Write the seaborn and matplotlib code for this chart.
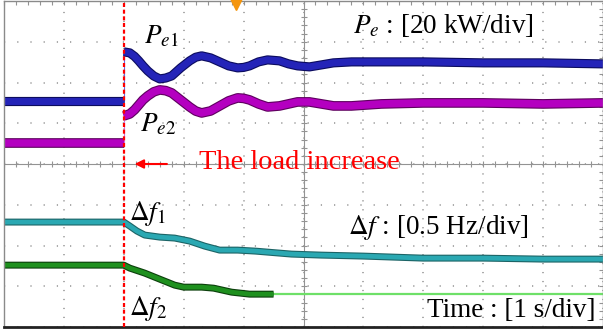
import matplotlib

matplotlib.use("Agg")
import matplotlib.patheffects as pe
import matplotlib.pyplot as plt
import numpy as np
import seaborn as sns

# time in s (1 s/div), traces in divisions
pre_t = [0, 2.0]
pe1_pre = [1.548, 1.548]
pe2_pre = [0.516, 0.516]

pe_t = [2.0, 2.1, 2.18, 2.25, 2.32, 2.4, 2.5, 2.6, 2.7, 2.8, 2.95, 3.1, 3.2, 3.3,
        3.45, 3.6, 3.75, 3.9, 4.0, 4.1, 4.25, 4.4, 4.6, 4.75, 4.9, 5.1, 5.3, 5.5,
        5.8, 6.3, 7.0, 8.0, 9.0, 10.0]
pe1 = [2.752, 2.727, 2.640, 2.531, 2.410, 2.285, 2.160, 2.088, 2.110, 2.162, 2.359,
       2.531, 2.620, 2.654, 2.604, 2.506, 2.408, 2.359, 2.370, 2.408, 2.506, 2.555,
       2.531, 2.457, 2.408, 2.383, 2.432, 2.482, 2.506, 2.506, 2.506, 2.482, 2.482,
       2.457]
pe2 = [1.179, 1.229, 1.330, 1.450, 1.570, 1.671, 1.770, 1.818, 1.800, 1.744, 1.572,
       1.400, 1.300, 1.253, 1.302, 1.425, 1.548, 1.622, 1.610, 1.572, 1.474, 1.400,
       1.425, 1.474, 1.523, 1.523, 1.474, 1.425, 1.425, 1.474, 1.499, 1.499, 1.474,
       1.499]

df1_t = [0, 2.0, 2.1, 2.22, 2.35, 2.6, 2.85, 3.1, 3.35, 3.6, 3.9, 4.2, 4.8, 5.3,
         6.0, 7.0, 8.0, 9.0, 10.0]
df1 = [-1.425, -1.425, -1.523, -1.646, -1.744, -1.794, -1.818, -1.892, -2.015,
       -2.113, -2.113, -2.138, -2.211, -2.236, -2.260, -2.310, -2.310, -2.334, -2.334]

df2_t = [0, 2.0, 2.1, 2.35, 2.6, 2.85, 3.0, 3.3, 3.5, 3.8, 4.1, 4.5]
df2 = [-2.482, -2.482, -2.555, -2.678, -2.826, -2.973, -3.022, -3.022, -3.047,
       -3.145, -3.194, -3.194]
df2_tail_t = [4.3, 10.0]
df2_tail = [-3.194, -3.194]

load_step_t = 2.0
trigger_t = 3.87

sns.set_theme(style="white")
plt.rcParams["font.family"] = ["Liberation Serif", "DejaVu Serif"]
plt.rcParams["mathtext.fontset"] = "stix"

fig = plt.figure(figsize=(6.03, 3.31), dpi=100)
ax = fig.add_axes([4 / 603, 4 / 331, 599 / 603, 326 / 331])
ax.set_xlim(0, 10)
ax.set_ylim(-4, 4)

grid_c = "#939393"
ax.set_xticks(np.arange(0, 10.01, 1))
ax.set_yticks(np.arange(-4, 4.01, 1))
ax.set_xticks(np.arange(0, 10.01, 0.2), minor=True)
ax.set_yticks(np.arange(-4, 4.01, 0.2), minor=True)
ax.tick_params(which="both", direction="in", length=3, width=0.8, color=grid_c,
               top=True, right=True, labelbottom=False, labelleft=False)
ax.xaxis.grid(True, which="major", color=grid_c, lw=1.1, linestyle=(0, (0.8, 5.07)))
ax.yaxis.grid(True, which="major", color=grid_c, lw=1.1, linestyle=(0, (0.8, 7.84)))
for side in ["top", "left", "right"]:
    ax.spines[side].set_color("#8a8a8a")
    ax.spines[side].set_linewidth(1.0)
ax.spines["bottom"].set_color("#222222")
ax.spines["bottom"].set_linewidth(2.0)

# centre cross with graduation marks
cx = np.arange(0, 10.01, 0.2)
cy = np.arange(-4, 4.01, 0.2)
ax.plot(cx, np.zeros_like(cx), color=grid_c, lw=0.8, marker="|", ms=5, mew=0.8)
ax.plot(np.full_like(cy, 5.0), cy, color=grid_c, lw=0.8, marker="_", ms=5, mew=0.8)


def trace(t, v, core, edge, lw):
    sns.lineplot(x=t, y=v, ax=ax, color=core, lw=lw, estimator=None, sort=False,
                 path_effects=[pe.Stroke(linewidth=lw + 1.6, foreground=edge), pe.Normal()],
                 solid_joinstyle="round", solid_capstyle="butt")


# thin jumps at the load step
ax.vlines(load_step_t, pe1_pre[-1], pe1[0], color="#6a6ae0", lw=0.8)
ax.vlines(load_step_t, pe2_pre[-1], pe2[0], color="#d070d8", lw=0.8)

trace(pre_t, pe1_pre, "#2424b8", "#0c0c5e", 5.0)
trace(pe_t, pe1, "#2424b8", "#0c0c5e", 5.0)
trace(pre_t, pe2_pre, "#b400c0", "#5e005e", 5.4)
trace(pe_t, pe2, "#b400c0", "#5e005e", 5.4)
trace(df1_t, df1, "#2aa8b2", "#1c6466", 3.4)
sns.lineplot(x=df2_tail_t, y=df2_tail, ax=ax, color="#6ee068", lw=1.6,
             estimator=None, sort=False)
trace(df2_t, df2, "#1e901e", "#0c3f0c", 3.4)

# load step marker
ax.axvline(load_step_t, color="#ff0000", lw=1.6, linestyle=(0, (1.8, 1.2)), zorder=5)
ax.annotate("", xy=(2.18, 0), xytext=(2.72, 0),
            arrowprops=dict(arrowstyle="-|>", color="#ff0000", lw=1.5,
                            mutation_scale=13, shrinkA=0, shrinkB=0))
ax.text(3.25, -0.13, "The load increase", color="#ff0000", fontsize=20.5,
        ha="left", va="baseline")

# trigger marker
ax.plot([trigger_t], [3.93], marker="v", ms=8, color="#f5960f", clip_on=False, zorder=6)

txt = dict(color="black", ha="left", va="baseline")
ax.text(2.33, 2.97, r"$P_{e1}$", fontsize=19.5, **txt)
ax.text(2.27, 0.79, r"$P_{e2}$", fontsize=19.5, **txt)
ax.text(2.08, -1.376, r"$\Delta f_1$", fontsize=19.5, **txt)
ax.text(2.08, -3.71, r"$\Delta f_2$", fontsize=19.5, **txt)
ax.text(5.82, 3.22, r"$P_e$ : [20 kW/div]", fontsize=19.5, **txt)
ax.text(5.75, -1.72, r"$\Delta f$ : [0.5 Hz/div]", fontsize=19.5, **txt)
ax.text(7.07, -3.76, "Time : [1 s/div]", fontsize=19.5, **txt)

fig.savefig("out.png", dpi=100)
